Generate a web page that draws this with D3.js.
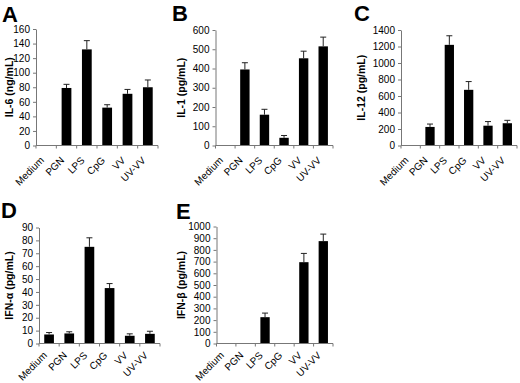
<!DOCTYPE html>
<html><head><meta charset="utf-8">
<script src="https://cdn.jsdelivr.net/npm/d3@7"></script>
<style>
body{margin:0;background:#fff;}
svg{display:block;font-family:"Liberation Sans",Arial,sans-serif;}
</style></head>
<body><svg id="c" width="520" height="383"></svg>
<script>
const categories = ["Medium","PGN","LPS","CpG","VV","UV-VV"];
const il6 = [0,79,132,52,71,80];
const il6Err = [0,5,12,4,6,10];
const il1 = [0,395,160,40,453,515];
const il1Err = [0,35,28,12,37,48];
const il12 = [0,225,1220,675,240,270];
const il12Err = [0,35,110,100,50,35];
const ifna = [7,7.8,75,43,6,7.5];
const ifnaErr = [1.5,1.3,7,3.5,1.5,2];
const ifnb = [0,0,225,0,695,875];
const ifnbErr = [0,0,35,0,75,60];
const ticksA = [0,20,40,60,80,100,120,140,160];
const ticksB = [0,100,200,300,400,500,600];
const ticksC = [0,200,400,600,800,1000,1200,1400];
const ticksD = [0,10,20,30,40,50,60,70,80,90];
const ticksE = [0,100,200,300,400,500,600,700,800,900,1000];

const panels = [
  {letter:"A", lx:2, ly:22, title:"IL-6 (ng/mL)", tx:13, vals:il6, err:il6Err, ticks:ticksA, x0:36, x1:158, yt:29, yb:145.5, lo:13},
  {letter:"B", lx:172, ly:21, title:"IL-1 (pg/mL)", tx:185, vals:il1, err:il1Err, ticks:ticksB, x0:215.5, x1:333, yt:30, yb:145.5, lo:13},
  {letter:"C", lx:354, ly:21, title:"IL-12 (pg/mL)", tx:365, vals:il12, err:il12Err, ticks:ticksC, x0:401, x1:517, yt:30, yb:145.5, lo:13},
  {letter:"D", lx:1, ly:218, title:"IFN-α (pg/mL)", tx:13, vals:ifna, err:ifnaErr, ticks:ticksD, x0:39, x1:160, yt:227.5, yb:343.5, lo:10},
  {letter:"E", lx:176, ly:219, title:"IFN-β (pg/mL)", tx:185, vals:ifnb, err:ifnbErr, ticks:ticksE, x0:216.5, x1:333, yt:226.5, yb:343.5, lo:10}
];

const svg = d3.select("#c");
const axisCol = "#777";

panels.forEach(p => {
  const g = svg.append("g");
  const x = d3.scaleBand().domain(categories).range([p.x0, p.x1]).padding(0);
  const y = d3.scaleLinear().domain([0, d3.max(p.ticks)]).range([p.yb, p.yt]);
  const bw = x.bandwidth()*0.48;

  g.append("text").attr("x", p.lx).attr("y", p.ly).attr("font-size", 22).attr("font-weight", "bold").text(p.letter);
  g.append("text").attr("transform", `translate(${p.tx},${(p.yt+p.yb)/2}) rotate(-90)`)
    .attr("text-anchor","middle").attr("font-size",10.5).attr("font-weight","bold").text(p.title);

  g.selectAll("rect.bar").data(p.vals).join("rect")
    .attr("x",(d,i)=>x(categories[i])+x.bandwidth()/2-bw/2)
    .attr("width",bw)
    .attr("y",d=>y(d)).attr("height",d=>y(0)-y(d)).attr("fill","#000");
  p.vals.forEach((v,i)=>{
    if (v<=0) return;
    const cx = x(categories[i])+x.bandwidth()/2;
    g.append("line").attr("x1",cx).attr("x2",cx).attr("y1",y(v)).attr("y2",y(v+p.err[i])).attr("stroke","#222").attr("stroke-width",1);
    g.append("line").attr("x1",cx-3).attr("x2",cx+3).attr("y1",y(v+p.err[i])).attr("y2",y(v+p.err[i])).attr("stroke","#222").attr("stroke-width",1);
  });

  const ya = g.append("g").attr("transform",`translate(${p.x0},0)`)
    .call(d3.axisLeft(y).tickValues(p.ticks).tickFormat(d3.format("d")).tickSize(3).tickSizeOuter(0).tickPadding(3));
  ya.select(".domain").attr("stroke",axisCol);
  ya.selectAll(".tick line").attr("stroke",axisCol);
  ya.selectAll(".tick text").attr("font-size",10).attr("fill","#000").attr("font-family","'Liberation Sans',Arial,sans-serif");

  g.append("line").attr("x1",p.x0).attr("x2",p.x1).attr("y1",p.yb).attr("y2",p.yb).attr("stroke",axisCol);
  const bounds = categories.map(c=>x(c)).concat([p.x1]);
  bounds.forEach(b=>{
    g.append("line").attr("x1",b).attr("x2",b).attr("y1",p.yb).attr("y2",p.yb+3).attr("stroke",axisCol);
  });
  categories.forEach(c=>{
    const cx = x(c)+x.bandwidth()/2;
    g.append("text").attr("transform",`translate(${cx-4},${p.yb+p.lo}) rotate(-45)`)
      .attr("text-anchor","end").attr("dy","0.35em").attr("font-size",10).text(c);
  });
});
</script></body></html>
